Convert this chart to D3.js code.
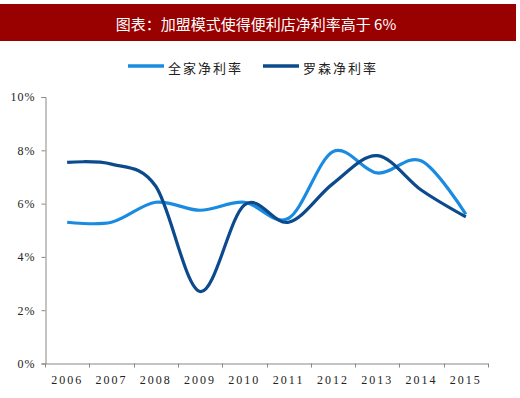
<!DOCTYPE html>
<html>
<head>
<meta charset="utf-8">
<script src="https://cdn.jsdelivr.net/npm/d3@7"></script>
<style>
  body { margin: 0; background: #fff; }
  svg { display: block; }
</style>
</head>
<body>
<div id="chart"></div>
<script>
// data
var years = ["2006", "2007", "2008", "2009", "2010", "2011", "2012", "2013", "2014", "2015"];
var familyMart = [5.3, 5.3, 6.05, 5.75, 6.05, 5.45, 7.95, 7.15, 7.6, 5.6];
var lawson = [7.55, 7.48, 6.65, 2.7, 5.95, 5.3, 6.75, 7.8, 6.5, 5.5];
var yTicks = [0, 2, 4, 6, 8, 10];
var seriesNames = ["全家净利率", "罗森净利率"];
var seriesColors = ["#1a8be0", "#0b4a8c"];

var svgWidth = 520;
var svgHeight = 398;

var svg = d3.select("#chart")
  .append("svg")
  .attr("width", svgWidth)
  .attr("height", svgHeight);

// title bar
svg.append("rect")
  .attr("x", 0)
  .attr("y", 4)
  .attr("width", 516)
  .attr("height", 37)
  .attr("fill", "#990000");

svg.append("text")
  .attr("x", 256)
  .attr("y", 23)
  .attr("text-anchor", "middle")
  .attr("dominant-baseline", "central")
  .attr("fill", "#fff")
  .style("font-family", "'Noto Sans CJK SC', sans-serif")
  .style("font-size", "15px")
  .text("图表：加盟模式使得便利店净利率高于 6%");

// scales
var xScale = d3.scaleBand()
  .domain(years)
  .range([45, 488]);

var yScale = d3.scaleLinear()
  .domain([0, 10])
  .range([363.5, 97]);

// y axis
var leftAxis = d3.axisLeft(yScale)
  .tickValues(yTicks)
  .tickSize(4)
  .tickPadding(6)
  .tickFormat(d => d + "%");

var yAxisG = svg.append("g")
  .attr("transform", "translate(45.5,0)")
  .call(leftAxis);

yAxisG.select(".domain").attr("stroke", "#888");
yAxisG.selectAll(".tick line").attr("stroke", "#888");
yAxisG.selectAll("text")
  .attr("fill", "#222")
  .style("font-family", "'Liberation Serif', serif")
  .style("font-size", "12px")
  .style("letter-spacing", "1px");

// x axis: labels centred in bands, ticks on band edges
var bottomAxis = d3.axisBottom(xScale)
  .tickSize(0)
  .tickPadding(12);

var xAxisG = svg.append("g")
  .attr("transform", "translate(0,363.5)")
  .call(bottomAxis);

xAxisG.select(".domain").attr("stroke", "#888");
xAxisG.selectAll("text")
  .attr("fill", "#222")
  .style("font-family", "'Liberation Serif', serif")
  .style("font-size", "12px")
  .style("letter-spacing", "2px");

var edges = years.map(d => xScale(d)).concat([xScale.range()[1]]);
xAxisG.selectAll(".edge")
  .data(edges)
  .enter()
  .append("line")
  .attr("class", "edge")
  .attr("x1", d => Math.round(d) + 0.5)
  .attr("x2", d => Math.round(d) + 0.5)
  .attr("y1", 0)
  .attr("y2", 4)
  .attr("stroke", "#888");

// lines
var line = d3.line()
  .x((d, i) => xScale(years[i]) + xScale.bandwidth() / 2)
  .y(d => yScale(d))
  .curve(d3.curveCardinal.tension(0));

[familyMart, lawson].forEach(function(values, i) {
  svg.append("path")
    .datum(values)
    .attr("d", line)
    .attr("fill", "none")
    .attr("stroke", seriesColors[i])
    .attr("stroke-width", 3.2);
});

// legend
var legendX = [128, 263];
seriesNames.forEach(function(name, i) {
  svg.append("line")
    .attr("x1", legendX[i])
    .attr("x2", legendX[i] + 36)
    .attr("y1", 66)
    .attr("y2", 66)
    .attr("stroke", seriesColors[i])
    .attr("stroke-width", 3.5);
  svg.append("text")
    .attr("x", legendX[i] + 40)
    .attr("y", 67)
    .attr("dominant-baseline", "central")
    .attr("fill", "#222")
    .style("font-family", "'Noto Sans CJK SC', sans-serif")
    .style("font-size", "13px")
    .style("letter-spacing", "2px")
    .text(name);
});
</script>
</body>
</html>
